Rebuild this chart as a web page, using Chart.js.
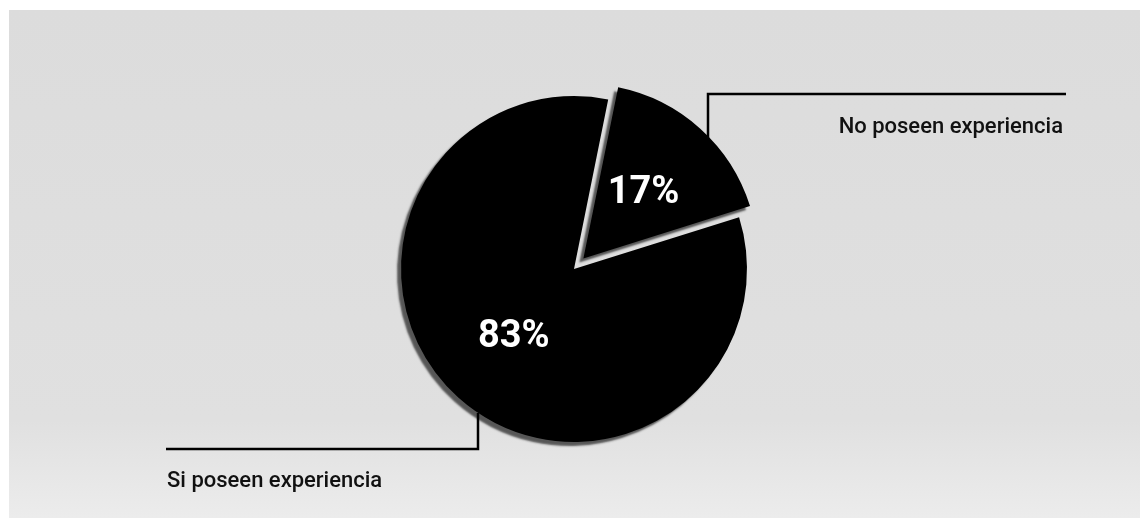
<!DOCTYPE html>
<html>
<head>
<meta charset="utf-8">
<script src="https://cdn.jsdelivr.net/npm/chart.js@4/dist/chart.umd.min.js"></script>
<style>
    html, body { margin: 0; padding: 0; background: #fff; }
    #wrap {
        position: relative;
        width: 1140px;
        height: 518px;
        background: linear-gradient(to bottom, #fff 0, #fff 10px, #dcdcdc 10px, #e0e0e0 420px, #ececec 518px);
    }
    #wrap::before {
        content: '';
        position: absolute;
        left: 0; top: 0; bottom: 0;
        width: 9px;
        background: #fff;
    }
    canvas { position: absolute; left: 0; top: 0; }
</style>
</head>
<body>
<div id="wrap">
    <canvas id="pie-js" width="1140" height="518"></canvas>
</div>
<script>
const labels = ['No poseen experiencia', 'Si poseen experiencia'];
const values = [17, 83];
// Chart.js v4 moves an arc out by a quarter of its offset
const explode = [56, 0];

// leader lines: which side the caption sits on and how far from the centre the drop line is
const leaders = [
    { dx: 134, lineY: 94, lineEnd: 1066, textX: 1063, textY: 133, align: 'right' },
    { dx: -96, lineY: 449, lineEnd: 166, textX: 167, textY: 487, align: 'left' }
];

const shadowPlugin = {
    id: 'sliceShadow',
    beforeDatasetsDraw(chart) {
        const ctx = chart.ctx;
        ctx.save();
        ctx.shadowColor = 'rgba(40, 40, 40, 0.75)';
        ctx.shadowOffsetX = -4;
        ctx.shadowOffsetY = 4;
        ctx.shadowBlur = 2;
    },
    afterDatasetsDraw(chart) {
        chart.ctx.restore();
    }
};

const labelPlugin = {
    id: 'sliceLabels',
    afterDatasetsDraw(chart) {
        const ctx = chart.ctx;
        const arcs = chart.getDatasetMeta(0).data;
        const total = values.reduce((a, b) => a + b);

        ctx.save();
        arcs.forEach((arc, i) => {
            const mid = (arc.startAngle + arc.endAngle) / 2;
            const shift = explode[i] / 4;
            const cx = arc.x + Math.cos(mid) * shift;
            const cy = arc.y + Math.sin(mid) * shift;
            const r = arc.outerRadius;

            // percentage halfway out along the slice's middle
            ctx.fillStyle = '#fff';
            ctx.font = 'bold 38px Roboto';
            ctx.textAlign = 'center';
            ctx.textBaseline = 'middle';
            ctx.fillText(Math.round(values[i] / total * 100) + '%',
                cx + Math.cos(mid) * r * 0.52, cy + Math.sin(mid) * r * 0.52 + 2);

            // drop line from the slice edge, then along to the caption
            const l = leaders[i];
            const x = arc.x + l.dx;
            const side = l.lineY < arc.y ? -1 : 1;
            const dx = x - cx;
            const edgeY = cy + side * Math.sqrt(r * r - dx * dx);
            ctx.strokeStyle = '#000';
            ctx.lineWidth = 2.5;
            ctx.beginPath();
            ctx.moveTo(x, edgeY);
            ctx.lineTo(x, l.lineY);
            ctx.lineTo(l.lineEnd, l.lineY);
            ctx.stroke();

            ctx.fillStyle = '#111';
            ctx.font = '500 22px Roboto';
            ctx.textAlign = l.align;
            ctx.textBaseline = 'alphabetic';
            ctx.fillText(labels[i], l.textX, l.textY);
        });
        ctx.restore();
    }
};

new Chart(document.getElementById('pie-js').getContext('2d'), {
    type: 'pie',
    data: {
        labels: labels,
        datasets: [{
            data: values,
            backgroundColor: ['#000', '#000'],
            borderWidth: 0,
            offset: explode
        }]
    },
    options: {
        responsive: false,
        animation: false,
        rotation: 11.4,
        radius: 173,
        layout: { padding: { top: 89, bottom: 69, left: 8, right: 0 } },
        plugins: {
            legend: { display: false },
            tooltip: { enabled: false }
        }
    },
    plugins: [shadowPlugin, labelPlugin]
});
</script>
</body>
</html>
